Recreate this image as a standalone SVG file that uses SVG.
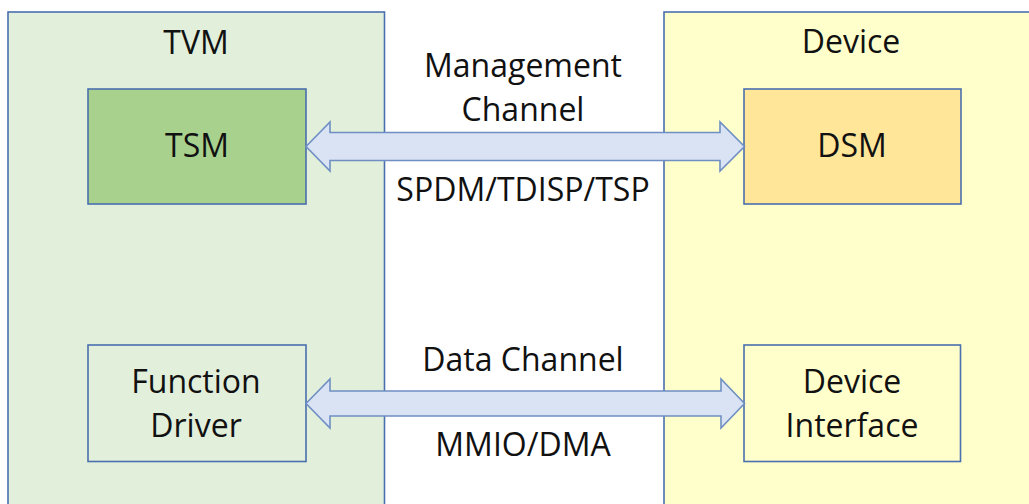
<svg xmlns="http://www.w3.org/2000/svg" width="1029" height="504" viewBox="0 0 1029 504">
<style>
text{font-family:"Open Sans","Noto Sans","Liberation Sans",sans-serif;font-size:32px;fill:#111;text-anchor:middle}
.box{stroke:#4A6FAE;stroke-width:1.6}
.arrow{fill:#DAE3F3;stroke:#6F8FC4;stroke-width:1.6;stroke-linejoin:miter}
</style>
<rect width="1029" height="504" fill="#ffffff"/>
<g id="tvm">
<rect class="box" x="8" y="12" width="376.5" height="500" fill="#E2EFDA"/>
<text x="196" y="54">TVM</text>
</g>
<g id="device">
<rect class="box" x="664" y="12" width="380" height="500" fill="#FFFFCC"/>
<text x="851" y="53">Device</text>
</g>
<g id="tsm">
<rect class="box" x="88" y="89" width="218" height="115" fill="#A9D18E"/>
<text x="197" y="157">TSM</text>
</g>
<g id="dsm">
<rect class="box" x="744" y="89" width="217" height="115" fill="#FFE699"/>
<text x="852" y="157">DSM</text>
</g>
<g id="function-driver">
<rect class="box" x="88" y="345" width="218" height="116.5" fill="#E2EFDA"/>
<text x="196" y="393">Function</text>
<text x="196" y="436.5">Driver</text>
</g>
<g id="device-interface">
<rect class="box" x="744" y="345" width="216.5" height="116.5" fill="#FFFFCC"/>
<text x="852" y="393">Device</text>
<text x="852" y="436.5">Interface</text>
</g>
<g id="connectors">
<path class="arrow" d="M306,146.5 L330,122 L330,132.5 L720,132.5 L720,122 L744.5,146.5 L720,171 L720,160.5 L330,160.5 L330,171 Z"/>
<path class="arrow" d="M306,403.5 L330,379 L330,391 L721,391 L721,379 L744.5,403.5 L721,428 L721,416 L330,416 L330,428 Z"/>
<text x="523" y="77">Management</text>
<text x="523" y="121">Channel</text>
<text x="523" y="200.5">SPDM/TDISP/TSP</text>
<text x="523" y="370.5">Data Channel</text>
<text x="523" y="456">MMIO/DMA</text>
</g>
</svg>
